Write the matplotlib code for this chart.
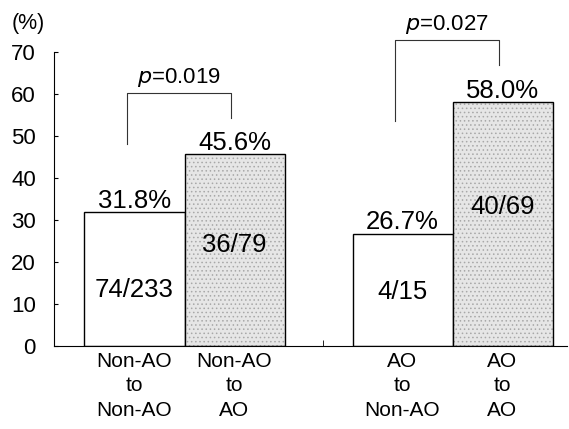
import matplotlib.pyplot as plt

plt.rcParams['font.family'] = ['Liberation Sans', 'DejaVu Sans']
plt.rcParams['hatch.linewidth'] = 0.6

categories = ['Non-AO\nto\nNon-AO', 'Non-AO\nto\nAO', 'AO\nto\nNon-AO', 'AO\nto\nAO']
percent = [31.8, 45.6, 26.7, 58.0]
counts = ['74/233', '36/79', '4/15', '40/69']
count_y = [13.3, 24.0, 12.9, 33.0]
p_values = ['0.019', '0.027']

positions = [0, 1, 2.68, 3.68]
shaded = [False, True, False, True]


def plot_data():
    fig = plt.figure(figsize=(5.69, 4.29), dpi=100)
    ax = fig.add_axes([0.0949, 0.1935, 0.9016, 0.6853])

    for x, v, s in zip(positions, percent, shaded):
        if s:
            ax.bar(x, v, width=1.0, color='#e6e6e6', edgecolor='#a8a8a8',
                   linewidth=0, hatch='....', zorder=2)
        ax.bar(x, v, width=1.0, fill=not s, color='white', edgecolor='black',
               linewidth=1.0, zorder=2)
        ax.text(x, v + 1.1, f'{v:.1f}%', ha='center', va='baseline', fontsize=18.5)

    for x, c, y in zip(positions, counts, count_y):
        ax.text(x, y, c, ha='center', va='center', fontsize=18.5, zorder=3)

    # significance brackets
    brackets = [
        (-0.075, 0.965, 48.1, 54.3, 60.2, p_values[0]),
        (2.605, 3.645, 53.6, 66.9, 72.9, p_values[1]),
    ]
    for x1, x2, y1, y2, top, p in brackets:
        ax.plot([x1, x1, x2, x2], [y1, top, top, y2], color='#333333',
                linewidth=0.8, clip_on=False)
        ax.text((x1 + x2) / 2, top + 2.4, r'$p$=' + p, ha='center',
                va='baseline', fontsize=16, clip_on=False)

    ax.set_xlim(-0.805, 4.325)
    ax.set_ylim(0, 70)
    ax.set_yticks(range(0, 71, 10))
    ax.tick_params(axis='y', direction='in', length=3, pad=13, labelsize=16)

    ax.set_xticks(positions)
    ax.set_xticklabels(categories, fontsize=15, linespacing=1.38)
    ax.tick_params(axis='x', length=0, pad=4)
    ax.set_xticks([1.885], minor=True)
    ax.tick_params(axis='x', which='minor', direction='in', length=4)

    ax.spines['top'].set_visible(False)
    ax.spines['right'].set_visible(False)

    fig.text(0.02, 0.946, '(%)', fontsize=15.5, ha='left', va='center')

    fig.savefig('out.png', dpi=100)


def main():
    plot_data()


if __name__ == "__main__":
    main()
